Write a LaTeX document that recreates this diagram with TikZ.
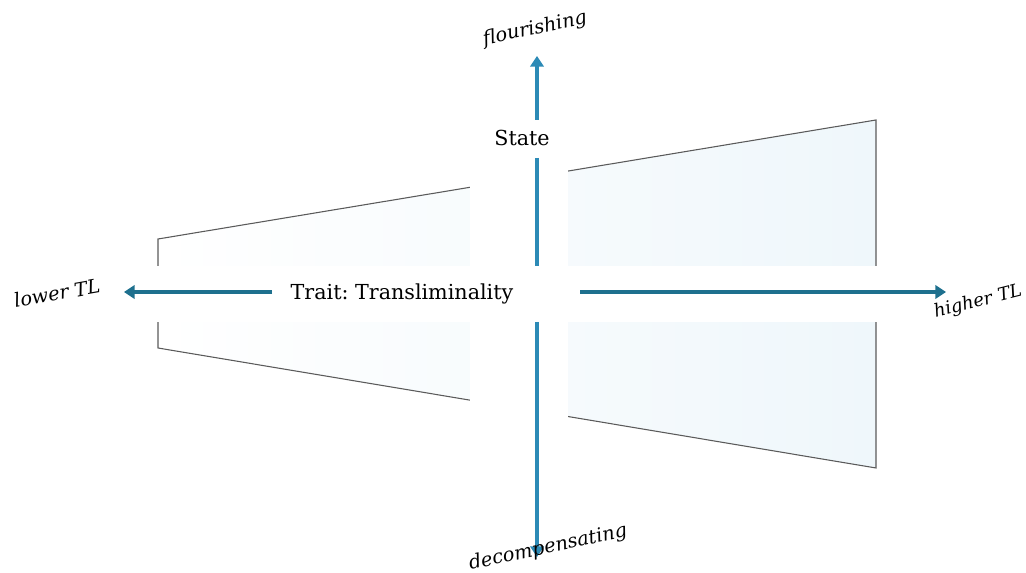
\documentclass[tikz,border=0pt]{standalone}
\usepackage{fontspec}
\setmainfont{DejaVu Serif}
\usetikzlibrary{arrows.meta}
\definecolor{vblue}{RGB}{44,138,182}
\definecolor{hblue}{RGB}{30,112,142}
\definecolor{fillblue}{RGB}{239,247,251}
\definecolor{edgegray}{RGB}{90,90,90}
\tikzset{
  axis/.style={line width=2.3pt, -{Triangle[length=8pt,width=10pt]}},
  axisplain/.style={line width=2.3pt},
  lbl/.style={font=\itshape\fontsize{14.5}{16}\selectfont, inner sep=1pt},
  axlbl/.style={font=\fontsize{15.5}{18}\selectfont, inner sep=1pt},
  edge/.style={draw=edgegray, line width=0.8pt}
}
\begin{document}
\begin{tikzpicture}[x=0.75pt,y=-0.75pt]
\useasboundingbox (0,0) rectangle (1026,573);
% trapezoid corners
\coordinate (tl) at (158,239);
\coordinate (tr) at (876,120);
\coordinate (br) at (876,468);
\coordinate (bl) at (158,348);
\shade[left color=white, right color=fillblue] (tl) -- (tr) -- (br) -- (bl) -- cycle;
\draw[edge] (tl) -- (tr) -- (br) -- (bl) -- cycle;
% white bands along the axes
\fill[white] (470,100) rectangle (568,490);
\fill[white] (140,266) rectangle (900,322);
% nodes
\node[axlbl] (state) at (522,138) {State};
\node[axlbl] (trait) at (402,294) {Trait:\ Transliminality};
\coordinate (vtop) at (537,56);
\coordinate (vs) at (537,120);
\coordinate (vmid1) at (537,158);
\coordinate (vmid2) at (537,266);
\coordinate (vlow) at (537,322);
\coordinate (vbot) at (537,557);
\coordinate (hleft) at (124,292);
\coordinate (hl) at (272,292);
\coordinate (hr) at (580,292);
\coordinate (hright) at (946,292);
\draw[axis, draw=vblue, fill=vblue] (vs) -- (vtop);
\draw[axisplain, draw=vblue] (vmid1) -- (vmid2);
\draw[axis, draw=vblue, fill=vblue] (vlow) -- (vbot);
\draw[axis, draw=hblue, fill=hblue] (hl) -- (hleft);
\draw[axis, draw=hblue, fill=hblue] (hr) -- (hright);
% labels
\node[lbl, rotate=12] (flo) at (535,29) {flourishing};
\node[lbl, rotate=10] (low) at (57,293) {lower TL};
\node[lbl, rotate=14, font=\itshape\fontsize{13.5}{15}\selectfont] (high) at (978,302) {higher\hspace{0.35em}TL};
\node[lbl, rotate=12] (dec) at (548,548) {decompensating};
\end{tikzpicture}
\end{document}
